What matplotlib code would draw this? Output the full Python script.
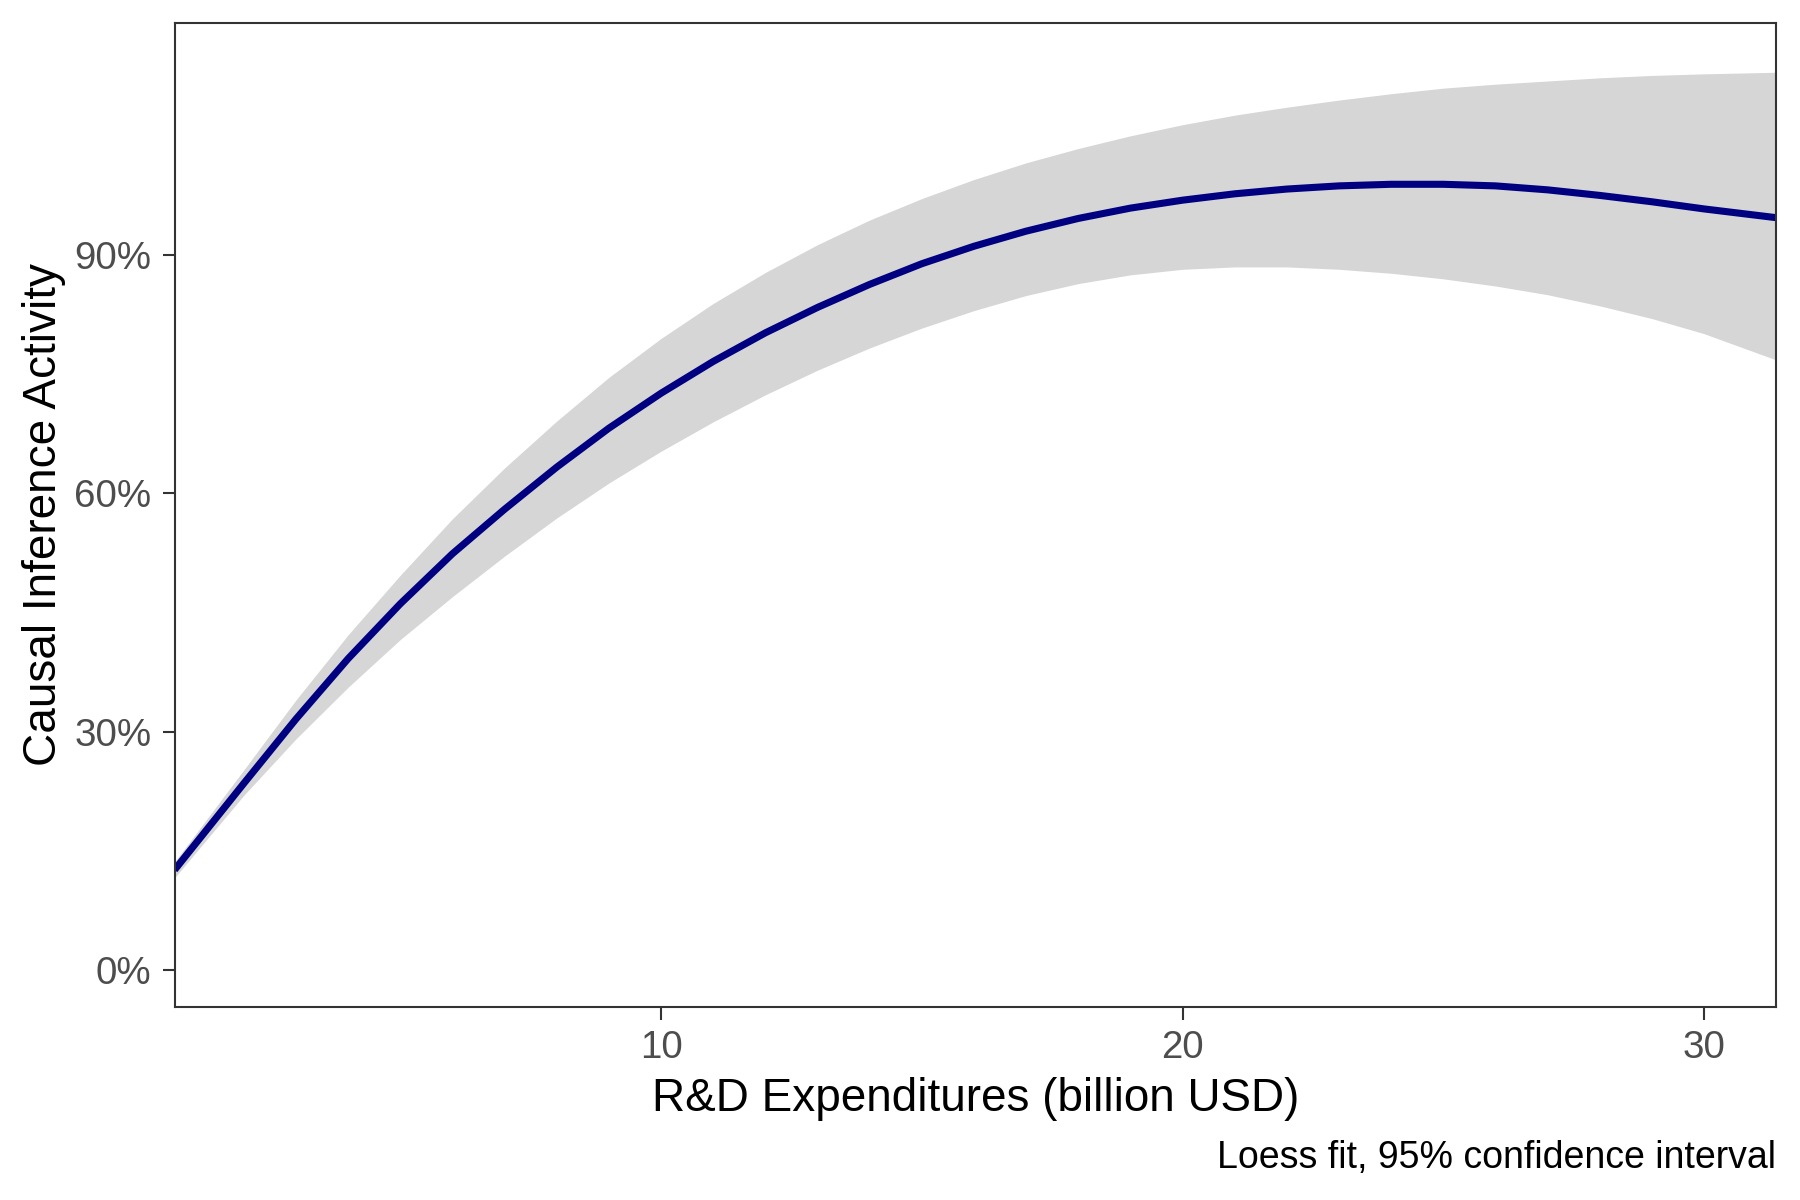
import matplotlib
matplotlib.use("Agg")
import matplotlib.pyplot as plt
from matplotlib.ticker import FuncFormatter

# R&D expenditures (billion USD)
x_vals = [0.67, 2, 3, 4, 5, 6, 7, 8, 9, 10, 11, 12, 13, 14, 15, 16, 17, 18, 19, 20,
          21, 22, 23, 24, 25, 26, 27, 28, 29, 30, 31.38]
# Loess fit (%)
fit_vals = [12.6, 23.5, 31.6, 39.2, 46.1, 52.4, 58.0, 63.3, 68.2, 72.6, 76.6, 80.2,
            83.4, 86.3, 88.9, 91.1, 93.0, 94.6, 95.9, 96.9, 97.7, 98.3, 98.7, 98.9,
            98.9, 98.7, 98.2, 97.5, 96.7, 95.8, 94.7]
# 95% CI upper (%)
upper_vals = [13.6, 25.2, 34.0, 42.2, 49.7, 56.8, 63.2, 69.1, 74.6, 79.5, 83.9, 87.8,
              91.3, 94.4, 97.1, 99.5, 101.6, 103.4, 105.0, 106.4, 107.6, 108.6, 109.5,
              110.3, 111.0, 111.5, 111.9, 112.3, 112.6, 112.8, 113.0]
# 95% CI lower (%)
lower_vals = [11.6, 22.0, 29.1, 35.6, 41.6, 47.0, 52.1, 56.9, 61.3, 65.3, 69.0, 72.4,
              75.5, 78.3, 80.8, 83.0, 84.9, 86.4, 87.5, 88.2, 88.5, 88.5, 88.2, 87.7,
              87.0, 86.1, 85.0, 83.6, 82.0, 80.1, 76.8]

x_ticks = [10, 20, 30]
y_ticks = [0, 30, 60, 90]

plt.rcParams['font.family'] = ['Liberation Sans', 'DejaVu Sans']

fig = plt.figure(figsize=(12, 8), dpi=150)
ax = fig.add_axes([174.5 / 1800, 1 - 1007 / 1200, (1776 - 174.5) / 1800, (1007 - 23) / 1200])

ax.fill_between(x_vals, lower_vals, upper_vals, color='#D6D6D6', linewidth=0, zorder=1)
ax.plot(x_vals, fit_vals, color='#000080', linewidth=3.4, solid_capstyle='butt',
        solid_joinstyle='round', zorder=2)

ax.set_xlim(0.67, 31.38)
ax.set_ylim(-4.65, 119.2)
ax.set_xticks(x_ticks)
ax.set_yticks(y_ticks)
ax.yaxis.set_major_formatter(FuncFormatter(lambda v, p: f"{v:.0f}%"))

for s in ax.spines.values():
    s.set_color('#333333')
    s.set_linewidth(1.0)
ax.tick_params(axis='both', direction='out', length=6, width=1.0, color='#333333',
               labelcolor='#4D4D4D', labelsize=18.5, pad=5)

ax.set_xlabel('R&D Expenditures (billion USD)', fontsize=22, color='black', labelpad=5.5)
ax.set_ylabel('Causal Inference Activity', fontsize=22, color='black', labelpad=4)

fig.text(1776 / 1800, 1 - 1158 / 1200, 'Loess fit, 95% confidence interval',
         ha='right', va='center', fontsize=18, color='black')

fig.savefig('out.png', dpi=150, facecolor='white')
